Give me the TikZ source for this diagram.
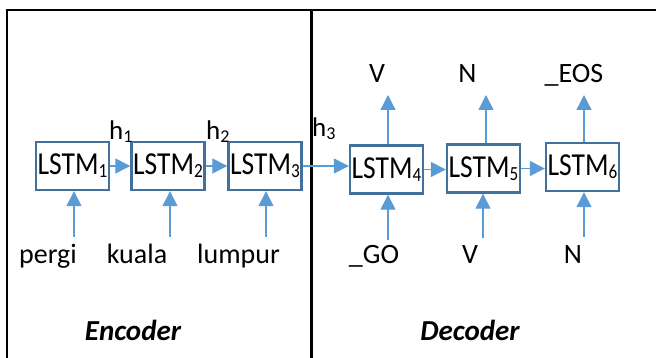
\documentclass[tikz,border=0pt]{standalone}
\usepackage{fontspec}
\setmainfont{Carlito}
\newfontfamily\lstmfont{Carlito}[FakeStretch=0.86]
\usetikzlibrary{arrows.meta}
\definecolor{boxblue}{HTML}{41719C}
\definecolor{arrblue}{HTML}{5B9BD5}
\newcommand{\lsub}[1]{\raisebox{-3pt}{\fontsize{20}{20}\selectfont #1}}
\newcommand{\hsub}[1]{\raisebox{-2.5pt}{\fontsize{18}{18}\selectfont #1}}
\begin{document}
\begin{tikzpicture}[x=1pt,y=-1pt,
  lstm/.style={draw=boxblue, line width=2.4pt, fill=white, minimum width=73pt, minimum height=48pt, inner sep=0pt, font=\lstmfont\fontsize{32}{32}\selectfont},
  lbl/.style={inner sep=0pt, anchor=base, font=\fontsize{28}{28}\selectfont},
  hlbl/.style={inner sep=0pt, anchor=base west, font=\fontsize{27}{27}\selectfont},
  part/.style={inner sep=0pt, anchor=base, font=\fontsize{29}{29}\selectfont\bfseries\itshape},
  arr/.style={draw=arrblue, line width=1.3pt, -{Triangle[length=15pt,width=15pt]}},
  frame/.style={line width=2.5pt, draw=black}]
\useasboundingbox (0,0) rectangle (656,358);
% table frame
\draw[frame] (7,358) -- (7,10) -- (656,10);
\draw[frame] (311.5,10) -- (311.5,358);
% LSTM cells
\node[lstm] (L1) at (72.5,166) {LSTM\lsub{1}};
\node[lstm] (L2) at (168,166) {LSTM\lsub{2}};
\node[lstm] (L3) at (265,166) {LSTM\lsub{3}};
\node[lstm] (L4) at (386.5,169.5) {LSTM\lsub{4}};
\node[lstm] (L5) at (483.5,168.5) {LSTM\lsub{5}};
\node[lstm] (L6) at (582.5,167) {LSTM\lsub{6}};
% recurrent arrows
\draw[arr] (L1.east) -- (L1.east -| L2.west);
\draw[arr] (L2.east) -- (L2.east -| L3.west);
\draw[arr] (L3.east) -- (L3.east -| L4.west);
\draw[arr] (L4.east) -- (L4.east -| L5.west);
\draw[arr] (L5.east) -- (L5.east -| L6.west);
% input arrows
\coordinate (i1) at (74,237);
\coordinate (i2) at (170,237);
\coordinate (i3) at (266,237);
\coordinate (i4) at (388,240);
\coordinate (i5) at (483,238);
\coordinate (i6) at (584,237);
\draw[arr] (i1) -- (i1 |- L1.south);
\draw[arr] (i2) -- (i2 |- L2.south);
\draw[arr] (i3) -- (i3 |- L3.south);
\draw[arr] (i4) -- (i4 |- L4.south);
\draw[arr] (i5) -- (i5 |- L5.south);
\draw[arr] (i6) -- (i6 |- L6.south);
% output arrows
\coordinate (o4) at (388,95);
\coordinate (o5) at (486,95);
\coordinate (o6) at (584,95);
\draw[arr] (o4 |- L4.north) -- (o4);
\draw[arr] (o5 |- L5.north) -- (o5);
\draw[arr] (o6 |- L6.north) -- (o6);
% word labels
\node[lbl] (w1) at (48,263) {pergi};
\node[lbl] (w2) at (137,263) {kuala};
\node[lbl] (w3) at (238.5,263) {lumpur};
\node[lbl] (d1) at (374,263) {\_GO};
\node[lbl] (d2) at (470,263) {V};
\node[lbl] (d3) at (573,264) {N};
\node[lbl] (y1) at (377,83) {V};
\node[lbl] (y2) at (467.5,83) {N};
\node[lbl] (y3) at (574,83) {\_EOS};
% hidden states
\node[hlbl] (h1) at (109,140) {h\hsub{1}};
\node[hlbl] (h2) at (206,140) {h\hsub{2}};
\node[hlbl] (h3) at (312,137) {h\hsub{3}};
% section titles
\node[part] (enc) at (133,340) {Encoder};
\node[part] (dec) at (470,340) {Decoder};
\end{tikzpicture}
\end{document}
